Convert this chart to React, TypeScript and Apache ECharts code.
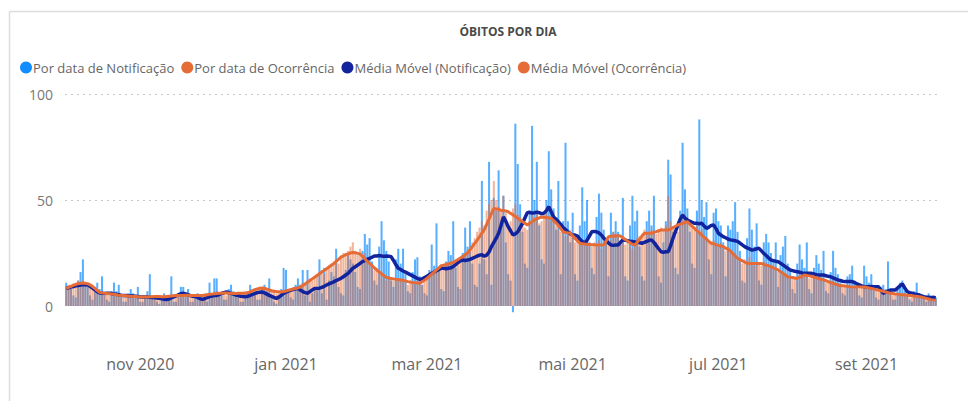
import React, { useEffect, useRef } from "react";
import * as echarts from "echarts";

const START_DATE = "2020-10-01";
const MONTHS_PT = ["jan", "fev", "mar", "abr", "mai", "jun", "jul", "ago", "set", "out", "nov", "dez"];
const LABEL_MONTHS = [10, 0, 2, 4, 6, 8];
const TITLE = "ÓBITOS POR DIA";
const SERIES_NAMES = [
  "Por data de Notificação",
  "Por data de Ocorrência",
  "Média Móvel (Notificação)",
  "Média Móvel (Ocorrência)",
];
const SERIES_COLORS = ["#118DFF", "#E66C37", "#12239E", "#E66C37"];

const notificacao = [
  11, 9, 8, 5, 4, 12, 16, 22, 11, 9,
  5, 3, 9, 11, 8, 14, 5, 3, 2, 7,
  11, 7, 10, 5, 2, 2, 6, 8, 6, 5,
  9, 2, 2, 5, 7, 15, 4, 3, 2, 1,
  4, 6, 4, 4, 14, 2, 2, 6, 9, 9,
  6, 8, 2, 2, 5, 6, 5, 3, 3, 2,
  11, 6, 13, 13, 6, 5, 3, 3, 8, 10,
  7, 6, 4, 2, 2, 5, 7, 10, 6, 5,
  3, 3, 8, 10, 7, 13, 4, 2, 1, 5,
  8, 18, 17, 7, 4, 3, 10, 13, 10, 17,
  5, 17, 2, 6, 8, 7, 22, 6, 18, 3,
  12, 16, 14, 27, 9, 6, 5, 17, 25, 22,
  20, 16, 9, 8, 26, 34, 29, 32, 21, 12,
  10, 28, 40, 31, 26, 21, 12, 9, 22, 27,
  20, 27, 15, 7, 6, 16, 22, 23, 14, 10,
  6, 5, 17, 29, 19, 39, 17, 8, 7, 21,
  26, 24, 40, 18, 9, 8, 25, 37, 28, 40,
  20, 10, 9, 20, 59, 22, 15, 68, 10, 51,
  45, 64, 40, 52, 30, 15, 12, -3, 86, 67,
  48, 35, 20, 18, 45, 85, 50, 68, 38, 22,
  20, 50, 73, 55, 46, 36, 59, 15, 40, 77,
  40, 30, 44, 15, 12, 38, 56, 40, 50, 30,
  18, 15, 42, 53, 44, 36, 30, 14, 44, 35,
  40, 35, 30, 51, 14, 12, 38, 52, 40, 45,
  28, 14, 12, 40, 45, 38, 52, 30, 14, 11,
  30, 40, 69, 62, 35, 18, 15, 45, 77, 55,
  46, 35, 20, 18, 45, 88, 50, 42, 49, 22,
  15, 44, 46, 40, 38, 30, 14, 38, 36, 40,
  49, 35, 26, 12, 11, 32, 46, 36, 28, 39,
  12, 10, 30, 34, 30, 25, 22, 30, 9, 24,
  28, 33, 20, 16, 8, 6, 20, 29, 22, 18,
  30, 8, 6, 18, 24, 20, 17, 26, 7, 6,
  16, 26, 18, 15, 11, 6, 5, 14, 15, 19,
  12, 10, 5, 4, 19, 14, 11, 15, 9, 4,
  3, 9, 10, 8, 21, 7, 3, 3, 9, 11,
  12, 7, 5, 3, 2, 7, 11, 6, 5, 4,
  2, 6, 4, 5, 4,
];

const ocorrencia = [
  9, 10, 8, 9, 11, 12, 10, 12, 11, 9,
  9, 10, 8, 7, 6, 7, 5, 6, 5, 6,
  6, 5, 6, 4, 5, 5, 4, 5, 5, 4,
  4, 5, 4, 5, 4, 5, 4, 4, 5, 4,
  4, 5, 4, 5, 5, 4, 5, 5, 6, 5,
  5, 6, 5, 4, 5, 5, 4, 5, 6, 5,
  6, 5, 6, 7, 5, 6, 6, 5, 7, 6,
  6, 6, 5, 6, 6, 7, 6, 7, 7, 8,
  8, 9, 8, 9, 8, 7, 7, 7, 6, 7,
  7, 7, 8, 7, 7, 8, 9, 9, 10, 11,
  11, 12, 13, 12, 14, 15, 16, 17, 15, 18,
  19, 20, 21, 22, 20, 24, 25, 24, 26, 28,
  30, 26, 24, 27, 22, 25, 21, 19, 20, 17,
  18, 16, 15, 14, 12, 14, 13, 12, 13, 12,
  13, 12, 11, 10, 12, 11, 10, 12, 11, 10,
  12, 13, 14, 15, 17, 16, 18, 19, 18, 20,
  20, 21, 19, 22, 21, 22, 24, 25, 26, 27,
  30, 32, 35, 37, 40, 38, 45, 48, 50, 59,
  50, 47, 45, 52, 44, 38, 40, 46, 48, 43,
  42, 40, 37, 36, 40, 44, 42, 45, 39, 40,
  43, 45, 42, 40, 44, 38, 36, 35, 37, 33,
  35, 36, 33, 30, 32, 30, 29, 31, 28, 30,
  28, 30, 29, 31, 27, 28, 32, 33, 31, 35,
  34, 33, 31, 32, 29, 30, 28, 27, 30, 32,
  33, 34, 36, 35, 34, 36, 35, 34, 36, 37,
  36, 38, 52, 40, 37, 33, 35, 39, 44, 42,
  42, 40, 37, 36, 38, 35, 36, 33, 31, 30,
  30, 31, 29, 28, 30, 27, 26, 28, 25, 24,
  25, 22, 21, 20, 22, 21, 23, 20, 19, 21,
  20, 19, 21, 20, 18, 19, 17, 18, 16, 15,
  16, 15, 14, 13, 14, 13, 12, 15, 14, 16,
  15, 13, 14, 14, 13, 14, 12, 13, 11, 12,
  11, 12, 10, 11, 9, 10, 9, 10, 9, 8,
  9, 10, 8, 9, 10, 9, 8, 9, 7, 8,
  8, 7, 7, 6, 8, 6, 5, 6, 5, 6,
  5, 6, 5, 4, 5, 5, 4, 5, 4, 4,
  3, 3, 3, 2, 3,
];

const mediaNotificacao = [
  8.3, 8.6, 8.9, 9.2, 9.5, 9.7, 9.9, 10, 10, 9.9,
  9.3, 8.5, 7.6, 6.8, 6.2, 6, 5.9, 6, 6, 5.9,
  5.7, 5.5, 5.3, 5.1, 5, 4.9, 4.8, 4.8, 4.7, 4.6,
  4.5, 4.4, 4.3, 4.2, 4.2, 4.1, 4, 3.9, 3.8, 3.6,
  3.4, 3.2, 3, 3.3, 3.8, 4.3, 4.8, 5.3, 5.8, 6,
  5.7, 5.3, 4.9, 4.6, 4.5, 4, 3.5, 3.1, 3.5, 4,
  4.4, 4.7, 4.9, 5, 5.4, 5.9, 6.3, 6.6, 6.4, 6,
  5.6, 5.2, 4.9, 4.6, 4.5, 4.4, 4.6, 5, 5.5, 5.9,
  6.3, 6.5, 6.6, 6.2, 5.6, 5, 4.5, 4, 3.6, 4.2,
  5, 6, 6.5, 7, 7.4, 7.8, 8.1, 8.3, 7.5, 6.8,
  6.3, 6, 6.8, 7.6, 8.3, 8.3, 8.4, 8.8, 9.3, 9.9,
  10.4, 10.9, 11.4, 12, 12.5, 13, 13.8, 14.6, 15.4, 16.6,
  17.8, 18.5, 19.3, 20.1, 20.9, 21.5, 22, 22.5, 23, 23.6,
  23.6, 23.8, 23.6, 23.4, 23.6, 23.5, 23.2, 21.5, 19.5, 17.8,
  17.2, 16.5, 16, 15.4, 14.8, 14.2, 13.6, 13, 12.6, 12.8,
  13.4, 14, 14.7, 15.4, 16, 16.6, 17.2, 17.8, 17.8, 17.6,
  17.8, 18, 18.6, 19.5, 20.5, 21.3, 21.7, 21.5, 21.7, 22,
  22.5, 23, 23.5, 24, 24.2, 23.5, 24, 25.5, 28, 30,
  32, 34.3, 38, 42, 40, 37.4, 35.5, 33.5, 34, 35,
  37, 39, 41.5, 44, 44.2, 43.8, 44, 44.3, 44, 43.5,
  43.8, 45, 46.8, 44.5, 42, 41, 39.8, 38.5, 37, 36,
  35, 34, 33.5, 33.5, 33, 31.5, 30.5, 29.6, 31, 33,
  35, 35.2, 35, 34.5, 33.5, 32, 31, 29.8, 28.8, 28.6,
  28.8, 28.8, 30, 31.2, 31, 30.8, 30.5, 30.4, 30.2, 30,
  29.8, 29.6, 30, 30.5, 31, 31.2, 30, 28.5, 27, 25.6,
  25.4, 25.6, 25.6, 28.5, 32, 35, 38, 41, 42.9, 41.5,
  40.6, 40, 39.5, 39, 39, 38.8, 39, 37.8, 36.6, 37.2,
  38, 38.2, 36.5, 34.3, 33.5, 32.7, 32.2, 31.6, 31.2, 31,
  30.8, 30.5, 29.7, 28.8, 28, 27.4, 26.9, 26.4, 26.6, 27,
  27.2, 26, 24.8, 23.8, 22.7, 21.7, 21.4, 21.1, 20.9, 20.2,
  19.4, 18.6, 17.8, 17, 16.7, 16.4, 16.2, 15.9, 15.6, 15.4,
  15.4, 15.4, 15.4, 15.1, 14.8, 14.6, 14.6, 14.6, 14.3, 14,
  13.8, 13.3, 12.8, 12.3, 12, 11.7, 11.5, 11.5, 11.5, 11.5,
  11, 10.5, 10, 9.5, 9.1, 9.1, 9.1, 9.2, 9.1, 9.1,
  9.1, 7.6, 6, 6.5, 7, 7.5, 7.5, 7.5, 8.5, 9.5,
  10.4, 8.5, 6.8, 6.3, 6, 5.7, 5.5, 5.2, 4.8, 4.4,
  4.2, 4.1, 4, 4, 3.9,
];

const mediaOcorrencia = [
  8.3, 8.8, 9.3, 9.8, 10.2, 10.5, 10.7, 10.8, 10.7, 10.5,
  10, 9.2, 8.3, 7.3, 6.5, 6.2, 6, 5.9, 5.8, 5.7,
  5.5, 5.3, 5.1, 5, 4.9, 4.8, 4.7, 4.6, 4.5, 4.5,
  4.4, 4.4, 4.3, 4.3, 4.3, 4.4, 4.4, 4.5, 4.5, 4.5,
  4.4, 4.4, 4.5, 4.6, 4.7, 4.8, 4.9, 5, 5, 5,
  5.1, 5.1, 5, 5, 4.9, 4.9, 5, 5, 5.1, 5.3,
  5.5, 5.6, 5.8, 5.9, 6, 6, 6.1, 6.1, 6, 6,
  5.9, 5.9, 6, 6, 6, 6, 6.3, 6.7, 7.2, 7.7,
  8.1, 8.4, 8.5, 8.3, 8, 7.6, 7.2, 7, 6.8, 6.7,
  6.6, 6.8, 7.1, 7.4, 7.7, 8, 8.3, 8.5, 9, 9.7,
  10.4, 11.2, 12, 12.8, 13.6, 14.4, 15.2, 16, 16.8, 17.6,
  18.4, 19.2, 20, 21, 22, 23, 23.6, 24.2, 24.6, 25,
  25.2, 25.1, 24.8, 24.5, 23.5, 22.3, 21, 20, 19, 18,
  17, 16.1, 15.2, 14.3, 13.5, 13.2, 13, 12.8, 12.6, 12.5,
  12.3, 12.1, 11.8, 11.5, 11.3, 11.1, 10.9, 10.8, 10.7, 11.4,
  12.2, 13, 14, 15, 16, 17, 18, 19, 19.3, 19.6,
  19.9, 20.2, 20.5, 21.2, 21.9, 22.6, 23.3, 24.2, 25, 26.5,
  28, 29.5, 31, 32.7, 34.4, 36, 38.5, 41, 43.7, 46,
  45.8, 45.5, 45.2, 45, 44.8, 44.5, 43.7, 43, 42.2, 41.4,
  40.6, 39.8, 39, 38.2, 39, 39.8, 40.6, 41.1, 41.6, 42,
  41.9, 41.8, 41.6, 41.4, 40.3, 39.2, 38, 36.5, 35, 34.7,
  34.5, 34.3, 33.1, 31.9, 30.7, 29.6, 29.4, 29.2, 29, 29,
  28.9, 28.9, 28.8, 28.8, 28.8, 28.8, 30.7, 32.7, 32.9, 33,
  33, 33.2, 33, 32.2, 31.4, 30.6, 29.8, 29, 28.8, 30,
  31.5, 33, 34.3, 34.3, 34.3, 34.3, 34.7, 35.1, 35.5, 35.8,
  35.8, 35.8, 35.8, 36.4, 37, 37.6, 38.2, 38.6, 39, 39.4,
  39.8, 38.7, 37.6, 36.6, 35.6, 34.5, 33.5, 32.5, 31.5, 30.5,
  29.6, 29.3, 29, 28.6, 28.3, 28, 27.3, 26.7, 26, 24.8,
  23.6, 22.5, 21.9, 21.3, 20.7, 20.2, 20, 20, 20, 20,
  20, 20, 19.6, 19.3, 19, 18.6, 18, 17.5, 17, 16.2,
  15.4, 14.6, 13.8, 13.6, 13.4, 13.2, 13, 13.5, 14, 14.6,
  14.4, 14.2, 14, 13.7, 13.3, 13, 12.6, 12.3, 11.9, 11.5,
  11.1, 10.7, 10.3, 9.9, 9.7, 9.6, 9.4, 9.3, 9.1, 9,
  9, 9, 9, 9, 9, 8.8, 8.5, 8.3, 8, 7.8,
  7.5, 7.2, 6.9, 6.6, 6.3, 6, 5.9, 5.7, 5.6, 5.4,
  5.3, 5.2, 5.1, 5, 4.9, 4.7, 4.6, 4.4, 4.2, 3.9,
  3.6, 3.3, 3, 2.8, 2.7,
];

function buildDates(start: string, n: number): string[] {
  const [y, m, d] = start.split("-").map(Number);
  const base = Date.UTC(y, m - 1, d);
  const out: string[] = [];
  for (let i = 0; i < n; i++) {
    const dt = new Date(base + i * 86400000);
    const mm = String(dt.getUTCMonth() + 1).padStart(2, "0");
    const dd = String(dt.getUTCDate()).padStart(2, "0");
    out.push(`${dt.getUTCFullYear()}-${mm}-${dd}`);
  }
  return out;
}

const FONT = "'Open Sans', 'Noto Sans', sans-serif";

export default function App() {
  const ref = useRef<HTMLDivElement>(null);

  useEffect(() => {
    if (!ref.current) return;
    const chart = echarts.init(ref.current, null, { renderer: "svg" });
    const dates = buildDates(START_DATE, notificacao.length);

    chart.setOption({
      animation: false,
      backgroundColor: "#ffffff",
      textStyle: { fontFamily: FONT },
      title: {
        text: TITLE,
        left: 503,
        textAlign: "center",
        top: 20,
        textStyle: { fontSize: 12, fontWeight: "bold", color: "#4a4a4a", fontFamily: FONT },
      },
      legend: {
        left: 15,
        top: 56,
        icon: "circle",
        itemWidth: 12,
        itemHeight: 12,
        itemGap: 7,
        selectedMode: false,
        textStyle: { fontSize: 13, color: "#666666", fontFamily: FONT, padding: [0, 0, 0, -4] },
        data: SERIES_NAMES.map((name, i) => ({
          name,
          itemStyle: { color: SERIES_COLORS[i], opacity: 1 },
        })),
      },
      graphic: [
        { type: "line", shape: { x1: 9.5, y1: 11.5, x2: 968, y2: 11.5 }, style: { stroke: "#dcdcdc", lineWidth: 1.5 } },
        { type: "line", shape: { x1: 9.5, y1: 11.5, x2: 9.5, y2: 401 }, style: { stroke: "#dcdcdc", lineWidth: 1.5 } },
      ],
      grid: { left: 65, right: 31, top: 94, bottom: 97, containLabel: false },
      xAxis: {
        type: "category",
        data: dates,
        boundaryGap: true,
        axisLine: { show: false },
        axisTick: { show: false },
        splitLine: { show: false },
        axisLabel: {
          margin: 50,
          fontSize: 16,
          color: "#666666",
          fontFamily: FONT,
          interval: (_i: number, value: string) => {
            const parts = value.split("-");
            return parts[2] === "01" && LABEL_MONTHS.includes(Number(parts[1]) - 1);
          },
          formatter: (value: string) => {
            const parts = value.split("-");
            return `${MONTHS_PT[Number(parts[1]) - 1]} ${parts[0]}`;
          },
        },
      },
      yAxis: {
        type: "value",
        min: 0,
        max: 100,
        interval: 50,
        axisLine: { show: false },
        axisTick: { show: false },
        axisLabel: { fontSize: 14, color: "#777777", margin: 12, fontFamily: FONT },
        splitLine: {
          lineStyle: { type: [2, 4], color: ["rgba(0,0,0,0)", "#c8c8c8", "#c8c8c8"], width: 1 },
        },
      },
      series: [
        {
          name: SERIES_NAMES[0],
          type: "bar",
          data: notificacao,
          barGap: "-100%",
          barCategoryGap: "15%",
          clip: false,
          itemStyle: { color: SERIES_COLORS[0], opacity: 0.7 },
          emphasis: { disabled: true },
        },
        {
          name: SERIES_NAMES[1],
          type: "bar",
          data: ocorrencia,
          clip: false,
          itemStyle: { color: SERIES_COLORS[1], opacity: 0.5 },
          emphasis: { disabled: true },
        },
        {
          name: SERIES_NAMES[2],
          type: "line",
          data: mediaNotificacao,
          showSymbol: false,
          symbol: "circle",
          itemStyle: { color: SERIES_COLORS[2] },
          lineStyle: { color: SERIES_COLORS[2], width: 3.5 },
          emphasis: { disabled: true },
        },
        {
          name: SERIES_NAMES[3],
          type: "line",
          data: mediaOcorrencia,
          showSymbol: false,
          symbol: "circle",
          itemStyle: { color: SERIES_COLORS[3] },
          lineStyle: { color: SERIES_COLORS[3], width: 3 },
          emphasis: { disabled: true },
        },
      ],
    });

    return () => chart.dispose();
  }, []);

  return (
    <div
      ref={ref}
      style={{ position: "fixed", left: 0, top: 0, width: 968, height: 403, background: "#fff" }}
    />
  );
}
